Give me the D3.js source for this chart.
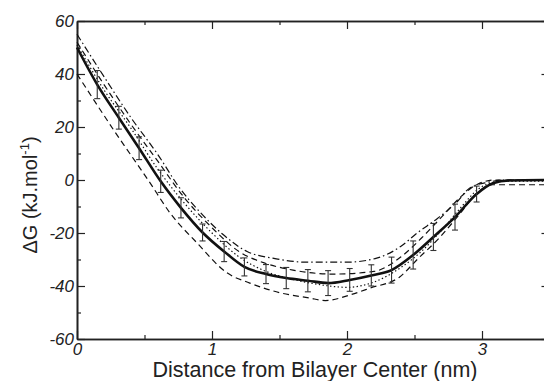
<!DOCTYPE html>
<html>
<head>
<meta charset="utf-8">
<script src="https://cdn.jsdelivr.net/npm/d3@7"></script>
<style>
  body { margin: 0; background: #fff; }
  text { font-family: "Liberation Sans", Arial, Helvetica, sans-serif; fill: #222; }
</style>
</head>
<body>
<div id="chart"></div>
<script>
// mean free energy profile (solid line) and error bar half-widths (null = no bar)
const meanX = [0, 0.15, 0.31, 0.46, 0.62, 0.77, 0.93, 1.09, 1.24, 1.40, 1.55, 1.71, 1.86, 2.02, 2.18, 2.33, 2.49, 2.64, 2.80, 2.96, 3.08, 3.2, 3.5];
const meanY = [50, 36, 23.5, 12, -0.5, -10.5, -19.8, -27, -32.8, -35.5, -37, -38, -38.9, -37.7, -36, -34, -28.3, -21.5, -14, -5.3, -1.2, -0.2, 0];
const meanErr = [null, 5.3, 4.3, 4.3, 4.2, 3.8, 3.2, 3.8, 3.4, 3.6, 4, 4.2, 4.7, 4.3, 4, 4.9, 5.3, 5.1, 4.9, 3, null, null, null];

// individual runs
const dashDotX = [0, 0.2, 0.4, 0.6, 0.76, 0.9, 1.08, 1.26, 1.45, 1.7, 2.0, 2.22, 2.4, 2.52, 2.67, 2.81, 2.91, 3.05, 3.15, 3.5];
const dashDotY = [55, 39, 23.5, 9.5, -3, -11.5, -20.5, -27, -29.5, -31, -31, -29.5, -25, -20, -14.5, -8.5, -3, -0.8, 0, 0];

const dashUpX = [0, 0.2, 0.4, 0.6, 0.8, 1.0, 1.2, 1.4, 1.6, 1.9, 2.2, 2.4, 2.55, 2.7, 2.85, 2.97, 3.1, 3.5];
const dashUpY = [52, 36, 21, 7, -7, -18, -27, -31.5, -34, -35.5, -34.5, -29, -22, -14, -6, -1.5, 0, 0];

const dotX = [0, 0.2, 0.4, 0.6, 0.8, 1.0, 1.2, 1.4, 1.6, 1.8, 2.0, 2.2, 2.4, 2.55, 2.7, 2.85, 2.97, 3.1, 3.2, 3.5];
const dotY = [51, 34, 19.5, 4, -9, -20, -29, -34.5, -37.5, -39.5, -40.5, -38.5, -33, -27, -19, -10, -3.5, -0.8, -0.4, -0.4];

const dashLowX = [0, 0.27, 0.54, 0.69, 0.89, 1.11, 1.28, 1.5, 1.72, 1.84, 2.02, 2.17, 2.39, 2.52, 2.69, 2.84, 2.96, 3.08, 3.2, 3.5];
const dashLowY = [40, 19, -1, -12.5, -23.8, -35, -38.9, -42.5, -44.5, -45.5, -43.4, -40.8, -36.6, -30, -21.5, -12.5, -5, -1.8, -1.8, -1.8];

const xTicks = [0, 1, 2, 3];
const xMinor = [0.5, 1.5, 2.5, 3.5];
const yTicks = [60, 40, 20, 0, -20, -40, -60];
const yMinor = [50, 30, 10, -10, -30, -50];

const width = 544, height = 381;
const margin = { top: 21, right: -5.5, bottom: 42, left: 77 };
const boundedWidth = width - margin.left - margin.right;
const boundedHeight = height - margin.top - margin.bottom;

const svg = d3.select("#chart").append("svg")
  .attr("width", width)
  .attr("height", height);

const bounds = svg.append("g")
  .attr("transform", `translate(${margin.left},${margin.top})`);

const xScale = d3.scaleLinear().domain([0, 3.5]).range([0, boundedWidth]);
const yScale = d3.scaleLinear().domain([-60, 60]).range([boundedHeight, 0]);

// axes, ticks pointing inward on all four sides
function styleAxis(g) {
  g.select(".domain").attr("stroke", "#222").attr("stroke-width", 1.6);
  g.selectAll(".tick line").attr("stroke", "#222").attr("stroke-width", 1.2);
  g.selectAll("text").attr("font-size", 17).attr("font-style", "italic").attr("fill", "#222");
}

bounds.append("g")
  .attr("transform", `translate(0,${boundedHeight})`)
  .call(d3.axisBottom(xScale).tickValues(xMinor).tickSize(-4).tickSizeOuter(0).tickFormat(""))
  .call(styleAxis);
bounds.append("g")
  .attr("transform", `translate(0,${boundedHeight})`)
  .call(d3.axisBottom(xScale).tickValues(xTicks).tickSize(-8).tickSizeOuter(0).tickPadding(4).tickFormat(d => String(d)))
  .call(styleAxis);

bounds.append("g")
  .call(d3.axisTop(xScale).tickValues(xMinor).tickSize(-4).tickSizeOuter(0).tickFormat(""))
  .call(styleAxis);
bounds.append("g")
  .call(d3.axisTop(xScale).tickValues(xTicks).tickSize(-8).tickSizeOuter(0).tickFormat(""))
  .call(styleAxis);

bounds.append("g")
  .call(d3.axisLeft(yScale).tickValues(yMinor).tickSize(-4).tickSizeOuter(0).tickFormat(""))
  .call(styleAxis);
bounds.append("g")
  .call(d3.axisLeft(yScale).tickValues(yTicks).tickSize(-8).tickSizeOuter(0).tickPadding(3).tickFormat(d => String(d)))
  .call(styleAxis);

bounds.append("g")
  .attr("transform", `translate(${boundedWidth},0)`)
  .call(d3.axisRight(yScale).tickValues(yMinor).tickSize(-4).tickSizeOuter(0).tickFormat(""))
  .call(styleAxis);
bounds.append("g")
  .attr("transform", `translate(${boundedWidth},0)`)
  .call(d3.axisRight(yScale).tickValues(yTicks).tickSize(-8).tickSizeOuter(0).tickFormat(""))
  .call(styleAxis);

// lines
const line = d3.line()
  .x(d => xScale(d[0]))
  .y(d => yScale(d[1]))
  .curve(d3.curveMonotoneX);

const zip = (xs, ys) => xs.map((x, i) => [x, ys[i]]);

const runs = [
  { data: zip(dashDotX, dashDotY), dash: "7,3,1.5,3" },
  { data: zip(dashUpX, dashUpY), dash: "6,4" },
  { data: zip(dotX, dotY), dash: "1.4,2.4" },
  { data: zip(dashLowX, dashLowY), dash: "6,4" },
];

bounds.append("g").selectAll("path")
  .data(runs)
  .join("path")
    .attr("d", d => line(d.data))
    .attr("fill", "none")
    .attr("stroke", "#111")
    .attr("stroke-width", 1.2)
    .attr("stroke-dasharray", d => d.dash);

bounds.append("path")
  .attr("d", line(zip(meanX, meanY)))
  .attr("fill", "none")
  .attr("stroke", "#111")
  .attr("stroke-width", 2.6);

// error bars
const bars = meanX.map((x, i) => ({ x, y: meanY[i], e: meanErr[i] })).filter(d => d.e != null);
const barG = bounds.append("g").attr("stroke", "#333").attr("stroke-width", 1.1);
barG.selectAll(".stem").data(bars).join("line")
  .attr("x1", d => xScale(d.x)).attr("x2", d => xScale(d.x))
  .attr("y1", d => yScale(d.y + d.e)).attr("y2", d => yScale(d.y - d.e));
barG.selectAll(".capTop").data(bars).join("line")
  .attr("x1", d => xScale(d.x) - 3).attr("x2", d => xScale(d.x) + 3)
  .attr("y1", d => yScale(d.y + d.e)).attr("y2", d => yScale(d.y + d.e));
barG.selectAll(".capBot").data(bars).join("line")
  .attr("x1", d => xScale(d.x) - 3).attr("x2", d => xScale(d.x) + 3)
  .attr("y1", d => yScale(d.y - d.e)).attr("y2", d => yScale(d.y - d.e));

// axis titles
svg.append("text")
  .attr("x", 315)
  .attr("y", 377)
  .attr("text-anchor", "middle")
  .attr("font-size", 21.5)
  .text("Distance from Bilayer Center (nm)");

const yTitle = svg.append("text")
  .attr("transform", "translate(37,195) rotate(-90)")
  .attr("text-anchor", "middle")
  .attr("font-size", 20);
yTitle.append("tspan").text("\u0394G (kJ.mol");
yTitle.append("tspan").attr("dy", -8).attr("font-size", 13).text("-1");
yTitle.append("tspan").attr("dy", 8).text(")");
</script>
</body>
</html>
